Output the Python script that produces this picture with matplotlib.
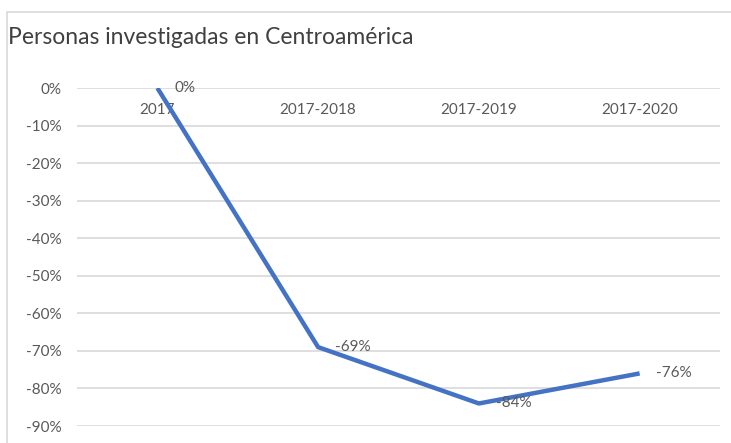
import matplotlib.pyplot as plt
from matplotlib.patches import Rectangle

# data
categorias = ['2017', '2017-2018', '2017-2019', '2017-2020']
variacion = [0.0, -0.69, -0.84, -0.76]
etiquetas = ['0%', '-69%', '-84%', '-76%']
y_ticks = [0, -0.1, -0.2, -0.3, -0.4, -0.5, -0.6, -0.7, -0.8, -0.9]

plt.rcParams['font.family'] = ['Lato', 'DejaVu Sans']
gris = '#595959'

fig = plt.figure(figsize=(7.31, 4.43), dpi=100)
# borde del grafico
fig.patches.append(Rectangle((7 / 731, -0.05), 1.0, 1 - 12 / 443 + 0.05,
                             transform=fig.transFigure, fill=False,
                             edgecolor='#d9d9d9', linewidth=1.2))

ax = fig.add_axes([77 / 731, 1 - 426 / 443, (720 - 77) / 731, (426 - 88) / 443])
x = list(range(len(categorias)))
ax.plot(x, variacion, color='#4472C4', linewidth=3.2, solid_capstyle='butt', zorder=3)

for i, (v, lab) in enumerate(zip(variacion, etiquetas)):
    ax.annotate(lab, (i, v), xytext=(12, 0), textcoords='offset points',
                ha='left', va='center', fontsize=11, color=gris, zorder=4)
    ax.annotate(categorias[i], (i, 0), xytext=(0, -16), textcoords='offset points',
                ha='center', va='center', fontsize=11, color=gris, zorder=2)

ax.set_xlim(-0.5, 3.5)
ax.set_ylim(-0.9, 0)
ax.set_xticks([])
ax.set_yticks(y_ticks)
ax.set_yticklabels([f'{round(t * 100)}%' for t in y_ticks])
ax.tick_params(axis='y', length=0, pad=11, labelsize=11, labelcolor=gris)
ax.grid(axis='y', color='#d9d9d9', linewidth=1.2)
ax.set_axisbelow(True)
for s in ax.spines.values():
    s.set_visible(False)
ax.patch.set_alpha(0)

fig.text(8 / 731, 1 - 38 / 443, 'Personas investigadas en Centroamérica',
         fontsize=16.5, color='#404040', va='center', ha='left')

fig.savefig('out.png', dpi=100)
